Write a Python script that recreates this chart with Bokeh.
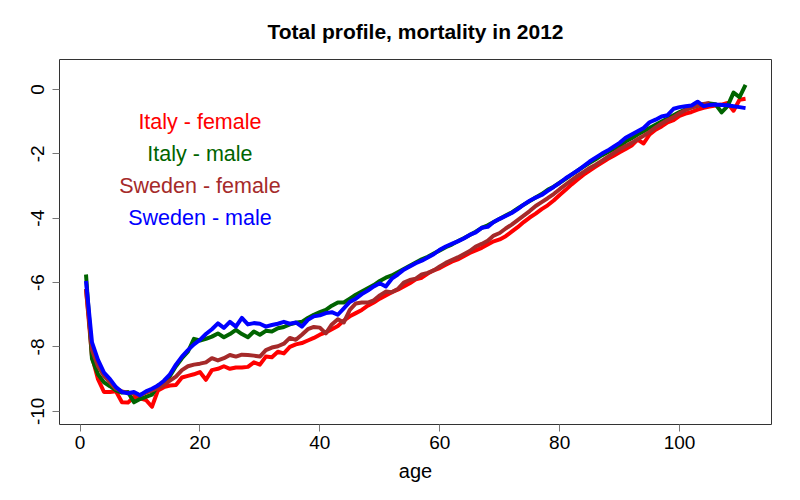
from bokeh.plotting import figure
from bokeh.models import Range1d, FixedTicker, Title, ColumnDataSource, PrintfTickFormatter
from bokeh.core.properties import value
from bokeh.embed import file_html
from bokeh.resources import INLINE

ages = list(range(1, 112))
ages_sweden_female = list(range(1, 106))

italy_female = [
    -6.2, -8.3, -9.0, -9.4, -9.4, -9.38, -9.72, -9.73, -9.55, -9.6,
    -9.65, -9.86, -9.35, -9.25, -9.2, -9.18, -8.95, -8.9, -8.85, -8.78,
    -9.02, -8.72, -8.68, -8.6, -8.68, -8.64, -8.64, -8.62, -8.48, -8.55,
    -8.3, -8.32, -8.15, -8.2, -8.0, -7.92, -7.88, -7.8, -7.72, -7.62,
    -7.55, -7.45, -7.35, -7.18, -7.05, -6.95, -6.85, -6.72, -6.62, -6.5,
    -6.4, -6.3, -6.22, -6.12, -6.02, -5.9, -5.85, -5.72, -5.62, -5.55,
    -5.45, -5.35, -5.28, -5.18, -5.08, -5.0, -4.92, -4.82, -4.72, -4.66,
    -4.56, -4.42, -4.28, -4.12, -3.98, -3.86, -3.72, -3.6, -3.45, -3.28,
    -3.12, -2.95, -2.8, -2.65, -2.52, -2.4, -2.28, -2.16, -2.06, -1.95,
    -1.85, -1.74, -1.56, -1.68, -1.4, -1.25, -1.15, -1.02, -0.95, -0.82,
    -0.75, -0.7, -0.63, -0.57, -0.53, -0.5, -0.47, -0.42, -0.66, -0.32,
    -0.29,
]

italy_male = [
    -5.75, -8.37, -8.85, -9.1, -9.22, -9.35, -9.42, -9.4, -9.72, -9.62,
    -9.55, -9.48, -9.2, -9.15, -8.9, -8.6, -8.35, -8.15, -7.75, -7.8,
    -7.75, -7.68, -7.58, -7.7, -7.6, -7.47, -7.6, -7.7, -7.52, -7.62,
    -7.5, -7.52, -7.42, -7.38, -7.3, -7.25, -7.22, -7.1, -7.0, -6.92,
    -6.85, -6.72, -6.62, -6.62, -6.5, -6.38, -6.28, -6.18, -6.08, -5.95,
    -5.85, -5.78, -5.68, -5.58, -5.48, -5.38, -5.28, -5.2, -5.1, -5.0,
    -4.9, -4.82, -4.72, -4.62, -4.52, -4.42, -4.3, -4.22, -4.12, -4.02,
    -3.92, -3.82, -3.7, -3.58, -3.47, -3.36, -3.25, -3.12, -3.02, -2.9,
    -2.78, -2.65, -2.52, -2.4, -2.28, -2.17, -2.05, -1.95, -1.85, -1.75,
    -1.62, -1.52, -1.4, -1.3, -1.2, -1.1, -1.0, -0.9, -0.8, -0.7,
    -0.62, -0.56, -0.5, -0.46, -0.44, -0.46, -0.71, -0.52, -0.1, -0.24,
    0.14,
]

sweden_female = [
    -6.2, -8.1, -8.6, -8.9, -9.1, -9.3, -9.38, -9.42, -9.45, -9.5,
    -9.42, -9.35, -9.28, -9.18, -9.05, -8.92, -8.72, -8.6, -8.55, -8.52,
    -8.48, -8.35, -8.42, -8.35, -8.25, -8.3, -8.24, -8.25, -8.27, -8.3,
    -8.1, -8.02, -7.98, -7.9, -7.72, -7.78, -7.62, -7.45, -7.38, -7.4,
    -7.58, -7.3, -7.14, -7.24, -6.85, -6.65, -6.62, -6.62, -6.55, -6.4,
    -6.28, -6.3, -6.2, -6.0, -5.92, -5.88, -5.75, -5.7, -5.62, -5.5,
    -5.39, -5.3, -5.22, -5.12, -5.02, -4.88, -4.8, -4.7, -4.54, -4.46,
    -4.32, -4.2, -4.06, -3.92, -3.78, -3.62, -3.5, -3.38, -3.25, -3.1,
    -2.96, -2.82, -2.68, -2.56, -2.44, -2.34, -2.22, -2.1, -1.98, -1.86,
    -1.76, -1.66, -1.55, -1.44, -1.32, -1.18, -1.06, -0.95, -0.86, -0.74,
    -0.64, -0.56, -0.5, -0.45, -0.42,
]

sweden_male = [
    -5.95, -7.86, -8.4, -8.8, -9.0, -9.25, -9.4, -9.44, -9.4, -9.5,
    -9.38, -9.3, -9.2, -9.05, -8.85, -8.55, -8.3, -8.1, -7.92, -7.78,
    -7.6, -7.45, -7.27, -7.41, -7.22, -7.37, -7.1, -7.3, -7.26, -7.28,
    -7.37, -7.32, -7.28, -7.22, -7.28, -7.24, -7.37, -7.16, -7.05, -7.02,
    -6.95, -6.92, -7.0, -6.8, -6.6, -6.5, -6.36, -6.25, -6.12, -6.02,
    -6.12, -5.88, -5.75, -5.6, -5.5, -5.4, -5.32, -5.22, -5.12, -4.98,
    -4.88, -4.8, -4.72, -4.63, -4.52, -4.44, -4.3, -4.27, -4.12, -4.02,
    -3.93, -3.84, -3.72, -3.58, -3.46, -3.36, -3.28, -3.15, -3.03, -2.9,
    -2.76, -2.64, -2.52, -2.38, -2.24, -2.12, -2.0, -1.9, -1.78, -1.66,
    -1.5, -1.4, -1.3, -1.2, -1.02, -0.94, -0.84, -0.8, -0.6, -0.55,
    -0.52, -0.5, -0.38, -0.52, -0.48, -0.47, -0.48, -0.49, -0.52, -0.55,
    -0.58,
]

series_names = ["Italy - female", "Italy - male", "Sweden - female", "Sweden - male"]
series_colors = ["#FF0000", "#006400", "#A52A2A", "#0000FF"]
x_ticks = [0, 20, 40, 60, 80, 100]
y_ticks = [-10, -8, -6, -4, -2, 0]
title_text = "Total profile, mortality in 2012"

FONT = "Liberation Sans"

p = figure(width=784, height=484, output_backend="svg", toolbar_location=None,
           x_range=Range1d(-3.42, 115.33), y_range=Range1d(-10.41, 0.93),
           min_border_left=59, min_border_right=13, min_border_top=59,
           min_border_bottom=58)

p.title = Title(text=title_text, align="center", vertical_align="top",
                text_font=FONT, text_font_size="21px", text_font_style="bold",
                text_color="black", offset=0, standoff=30)

p.outline_line_color = "#333333"
p.outline_line_width = 1
p.xgrid.visible = False
p.ygrid.visible = False
p.background_fill_color = "white"
p.border_fill_color = "white"

for ax in (p.xaxis, p.yaxis):
    ax.axis_line_color = None
    ax.major_tick_line_color = "#777777"
    ax.major_tick_out = 7
    ax.major_tick_in = 0
    ax.minor_tick_line_color = None
    ax.major_label_text_font = FONT
    ax.major_label_text_font_size = "19px"
    ax.major_label_text_color = "black"
    ax.formatter = PrintfTickFormatter(format="%d")

p.xaxis.ticker = FixedTicker(ticks=x_ticks)
p.yaxis.ticker = FixedTicker(ticks=y_ticks)
p.yaxis.major_label_orientation = "vertical"
p.xaxis.major_label_standoff = 4
p.yaxis.major_label_standoff = 8
p.xaxis.axis_label = "age"
p.xaxis.axis_label_text_font = FONT
p.xaxis.axis_label_text_font_size = "20px"
p.xaxis.axis_label_text_font_style = "normal"
p.xaxis.axis_label_text_color = "black"
p.xaxis.axis_label_standoff = 8

all_series = [(ages, italy_female), (ages, italy_male),
              (ages_sweden_female, sweden_female), (ages, sweden_male)]
for (xs, ys), name, color in zip(all_series, series_names, series_colors):
    p.line(xs, ys, line_color=color, line_width=4, line_join="round")

label_src = ColumnDataSource(dict(
    x=[20, 20, 20, 20],
    y=[-1, -2, -3, -4],
    text=series_names,
    color=series_colors,
))
p.text(x="x", y="y", text="text", text_color="color", source=label_src,
       text_align="center", text_baseline="middle",
       text_font=value(FONT), text_font_size="21.5px")

open("out.html", "w").write(file_html(p, INLINE))
